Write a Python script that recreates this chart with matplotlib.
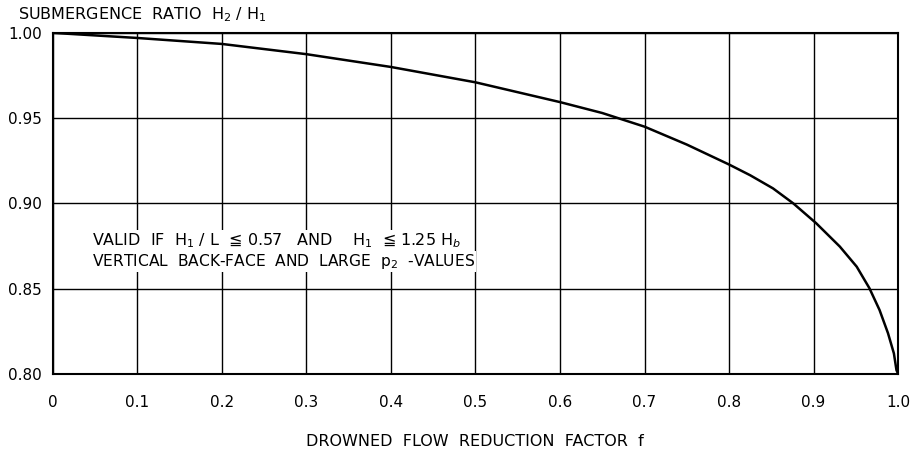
import matplotlib.pyplot as plt

# Curve: drowned flow reduction factor vs submergence ratio
f_vals = [0.0, 0.1, 0.2, 0.3, 0.4, 0.5, 0.6, 0.65, 0.7, 0.75, 0.8, 0.825,
          0.852, 0.876, 0.903, 0.931, 0.951, 0.966, 0.978, 0.988, 0.995, 0.998, 1.0]
ratio = [1.000, 0.997, 0.9935, 0.9875, 0.980, 0.971, 0.9594, 0.953, 0.945,
         0.9345, 0.9228, 0.9165, 0.9088, 0.900, 0.8884, 0.8747, 0.8629, 0.8503,
         0.8375, 0.8239, 0.812, 0.8023, 0.800]

x_ticks = [0, 0.1, 0.2, 0.3, 0.4, 0.5, 0.6, 0.7, 0.8, 0.9, 1.0]
x_labels = ['0', '0.1', '0.2', '0.3', '0.4', '0.5', '0.6', '0.7', '0.8', '0.9', '1.0']
y_ticks = [0.80, 0.85, 0.90, 0.95, 1.00]
y_labels = ['0.80', '0.85', '0.90', '0.95', '1.00']

plt.rcParams['font.family'] = ['DejaVu Sans']
plt.rcParams['mathtext.fontset'] = 'dejavusans'

fig = plt.figure(figsize=(9.12, 4.5), dpi=100)
ax = fig.add_axes([0.0578, 0.169, 0.927, 0.758])

ax.plot(f_vals, ratio, color='black', linewidth=1.8, zorder=3,
        solid_joinstyle='round', solid_capstyle='round')

ax.set_xlim(0, 1.0)
ax.set_ylim(0.80, 1.00)
ax.set_xticks(x_ticks)
ax.set_xticklabels(x_labels)
ax.set_yticks(y_ticks)
ax.set_yticklabels(y_labels)
ax.tick_params(axis='x', length=0, pad=15, labelsize=11)
ax.tick_params(axis='y', length=0, pad=8, labelsize=11)
ax.grid(True, color='black', linewidth=1.0)
for side in ['bottom', 'top', 'left', 'right']:
    ax.spines[side].set_linewidth(1.5)

# axis titles
fig.text(0.02, 0.968, r'SUBMERGENCE  RATIO  H$_2$ / H$_1$', fontsize=11.5,
         ha='left', va='center')
fig.text(0.521, 0.018, 'DROWNED  FLOW  REDUCTION  FACTOR  f', fontsize=11.5,
         ha='center', va='center')

# validity note
box = dict(facecolor='white', edgecolor='none', pad=1)
ax.text(0.046, 0.8782, r'VALID  IF  H$_1$ / L  ≦ 0.57   AND    H$_1$  ≦ 1.25 H$_b$',
        fontsize=11.5, ha='left', va='center', bbox=box, zorder=4)
ax.text(0.046, 0.8659, r'VERTICAL  BACK-FACE  AND  LARGE  p$_2$  -VALUES',
        fontsize=11.2, ha='left', va='center', bbox=box, zorder=4)

fig.savefig('out.png', dpi=100, facecolor='white')
